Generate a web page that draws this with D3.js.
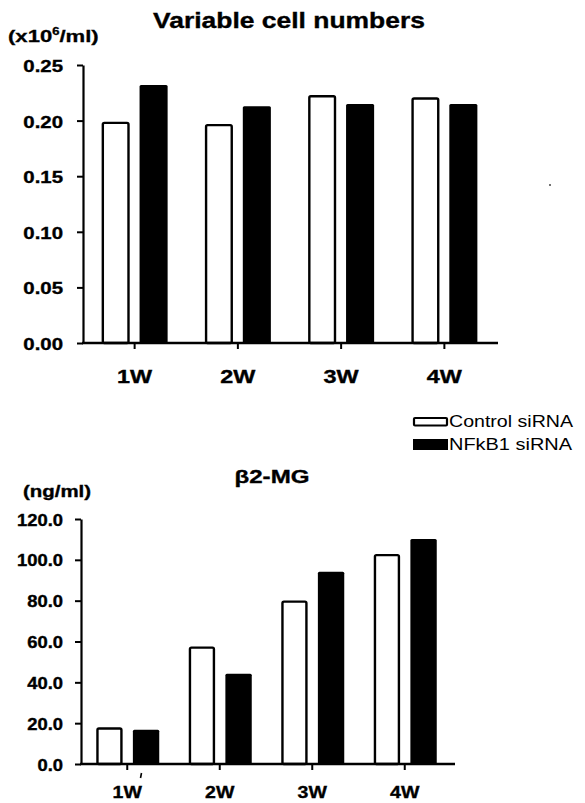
<!DOCTYPE html>
<html><head><meta charset="utf-8">
<script src="https://cdn.jsdelivr.net/npm/d3@7"></script>
<style>body{margin:0;background:#fff}svg{display:block}</style>
</head><body><svg id="c" width="585" height="803"></svg>
<script>
const categories = ["1W", "2W", "3W", "4W"];
const seriesNames = ["Control siRNA", "NFkB1 siRNA"];
const cellControl = [0.199, 0.197, 0.223, 0.221];
const cellNFkB1 = [0.232, 0.213, 0.215, 0.215];
const cellTicks = [0, 0.05, 0.10, 0.15, 0.20, 0.25];
const b2mgControl = [18.0, 57.6, 80.1, 102.9];
const b2mgNFkB1 = [16.8, 44.2, 94.2, 110.2];
const b2mgTicks = [0, 20, 40, 60, 80, 100, 120];

const FONT = "'Liberation Sans', Arial, sans-serif";
const svg = d3.select("#c");
svg.append("rect").attr("width", 585).attr("height", 803).attr("fill", "#fff");

function drawChart(o) {
  const g = svg.append("g");
  const x = d3.scaleBand().domain(categories).range(o.xRange);
  const y = d3.scaleLinear().domain(o.yDomain).range(o.yRange);
  const xs = d3.scaleBand().domain(seriesNames).range(o.subRange).paddingInner(o.subPad);
  const rows = categories.map((c, i) => ({c, vals: [o.a[i], o.b[i]]}));

  // bars
  const grp = g.selectAll("g.cat").data(rows).join("g")
    .attr("transform", d => `translate(${x(d.c) + x.bandwidth() / 2},0)`);
  grp.selectAll("rect").data(d => d.vals.map((v, k) => ({v, s: seriesNames[k]}))).join("rect")
    .attr("x", d => xs(d.s) + (d.s === seriesNames[0] ? 1.2 : 0))
    .attr("width", d => xs.bandwidth() - (d.s === seriesNames[0] ? 2.4 : 0))
    .attr("y", d => y(d.v) + (d.s === seriesNames[0] ? 1.2 : 0))
    .attr("height", d => y(0) - y(d.v) - (d.s === seriesNames[0] ? 1.2 : 0))
    .attr("rx", 1.5)
    .attr("fill", d => d.s === seriesNames[0] ? "#fff" : "#000")
    .attr("stroke", d => d.s === seriesNames[0] ? "#000" : "none")
    .attr("stroke-width", 2.4);

  // y axis
  const ya = g.append("g").attr("transform", `translate(${o.xRange[0]},0)`)
    .call(d3.axisLeft(y).tickValues(o.ticks).tickFormat(d3.format(o.fmt)).tickSize(6).tickSizeOuter(0));
  ya.select(".domain").attr("stroke-width", 2.2);
  ya.selectAll(".tick line").attr("stroke-width", 2);
  ya.selectAll(".tick text")
    .attr("x", -o.yLabOff / o.yScaleX).attr("dy", "0.38em")
    .attr("transform", `scale(${o.yScaleX},1)`)
    .style("font-family", FONT).style("font-weight", "bold").style("font-size", o.yFont + "px")
    .attr("fill", "#000").attr("stroke", "#000").attr("stroke-width", 0.35);

  // x axis
  const xa = g.append("g").attr("transform", `translate(0,${o.yRange[0]})`)
    .call(d3.axisBottom(x).tickSize(6).tickSizeOuter(0));
  xa.select(".domain").remove();
  xa.selectAll(".tick line").attr("stroke-width", 2);
  xa.selectAll(".tick text")
    .attr("y", o.xLabOff).attr("dy", 0)
    .attr("transform", `scale(${o.xScaleX},1)`)
    .style("font-family", FONT).style("font-weight", "bold").style("font-size", o.xFont + "px")
    .attr("fill", "#000").attr("stroke", "#000").attr("stroke-width", 0.35);
  g.append("line").attr("x1", o.xRange[0] - 1).attr("x2", o.baseEnd)
    .attr("y1", o.yRange[0]).attr("y2", o.yRange[0])
    .attr("stroke", "#000").attr("stroke-width", 2.4);
}

drawChart({
  a: cellControl, b: cellNFkB1, xRange: [83, 496], baseEnd: 498,
  yDomain: [0, 0.25], yRange: [343, 65], ticks: cellTicks, fmt: ".2f",
  subRange: [-33, 33], subPad: 0.26,
  yFont: 17, yScaleX: 1.2, yLabOff: 20,
  xFont: 18, xScaleX: 1.3, xLabOff: 40
});

drawChart({
  a: b2mgControl, b: b2mgNFkB1, xRange: [81, 451], baseEnd: 455,
  yDomain: [0, 120], yRange: [764, 519], ticks: b2mgTicks, fmt: ".1f",
  subRange: [-31, 32], subPad: 0.28,
  yFont: 16, yScaleX: 1.15, yLabOff: 18,
  xFont: 17, xScaleX: 1.15, xLabOff: 34
});

// titles and unit labels
function txt(s, xp, yp, size, weight, anchor, len) {
  const t = svg.append("text").attr("x", xp).attr("y", yp).text(s)
    .style("font-family", FONT).style("font-weight", weight).style("font-size", size + "px")
    .attr("text-anchor", anchor).attr("fill", "#000");
  if (weight === "bold") t.attr("stroke", "#000").attr("stroke-width", 0.35);
  if (len) t.attr("textLength", len).attr("lengthAdjust", "spacingAndGlyphs");
  return t;
}
txt("Variable cell numbers", 289, 28, 22, "bold", "middle", 272);
txt("β2-MG", 272, 483, 19, "bold", "middle", 75);
txt("(ng/ml)", 23, 497, 16, "bold", "start", 68);

const unit = svg.append("text").attr("transform", "translate(8,42) scale(1.3,1)")
  .style("font-family", FONT).style("font-weight", "bold").style("font-size", "17px")
  .attr("fill", "#000").attr("stroke", "#000").attr("stroke-width", 0.3);
unit.append("tspan").text("(x10");
unit.append("tspan").text("6").style("font-size", "10px").attr("dy", -7);
unit.append("tspan").text("/ml)").attr("dy", 7);

// legend
const leg = svg.append("g");
leg.append("rect").attr("x", 414).attr("y", 418).attr("width", 33).attr("height", 7.5)
  .attr("fill", "#fff").attr("stroke", "#000").attr("stroke-width", 2.2).attr("rx", 1);
leg.append("rect").attr("x", 413).attr("y", 439).attr("width", 35).attr("height", 11)
  .attr("fill", "#000");
txt(seriesNames[0], 449, 427, 16, "normal", "start", 124);
txt(seriesNames[1], 449, 450, 16, "normal", "start", 123);

// small scan marks
svg.append("circle").attr("cx", 550).attr("cy", 185).attr("r", 1).attr("fill", "#444");
svg.append("line").attr("x1", 141.5).attr("y1", 773).attr("x2", 140.5).attr("y2", 778)
  .attr("stroke", "#000").attr("stroke-width", 1.6);
</script></body></html>
